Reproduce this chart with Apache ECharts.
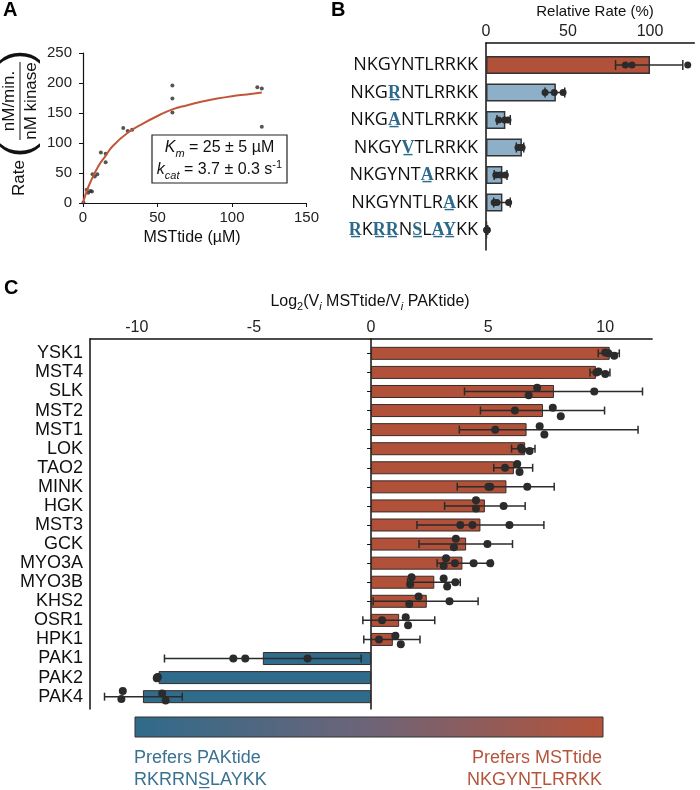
<!DOCTYPE html>
<html>
<head>
<meta charset="utf-8">
<script src="https://cdn.jsdelivr.net/npm/echarts@6/dist/echarts.min.js"></script>
<style>
html, body { margin: 0; padding: 0; background: #fff; }
#chart { width: 700px; height: 790px; }
</style>
</head>
<body>
<div id="chart"></div>
<script>
// panel A: kinetics, substrate uM vs rate
var mmPoints = [[0.3, 1], [2.5, 22], [3.5, 17], [5, 20], [6, 19], [6.4, 48], [7.9, 44], [9.6, 48],
    [12, 84], [15.2, 82], [15.2, 68], [27, 125], [30, 120], [33, 122], [60, 196], [60, 174], [60, 151],
    [117, 193], [120, 191], [120, 127]];
var mmFit = [[0, 0], [2, 16], [5, 35], [10, 60], [15, 78], [20, 95], [30, 117], [40, 132], [50, 145],
    [60, 156], [70, 163], [80, 169], [90, 174], [100, 178], [110, 181], [120, 184]];

// panel B: peptide variants, [x] = changed residue
var peptides = ['NKGYNTLRRKK', 'NKG[R]NTLRRKK', 'NKG[A]NTLRRKK', 'NKGY[V]TLRRKK', 'NKGYNT[A]RRKK', 'NKGYNTLR[A]KK', '[R]K[RR]N[S]L[AY]KK'];
var relRate = [100, 42.6, 11.8, 21.9, 10.0, 10.0, 0.6];
var relLow = [79, 36, 6.7, 18.5, 5.0, 4.7, 0.2];
var relHigh = [120, 48, 14.8, 23.0, 12.8, 14.8, 1.0];
var relDots = [[85, 89, 123], [36, 41.6, 47], [7.7, 11.4, 13.4], [19.5, 21, 22], [6, 8.7, 11.8], [5, 6.7, 13.8], [0.4, 0.6, 0.8]];

// panel C: log2 ratio per kinase
var kinases = ['YSK1', 'MST4', 'SLK', 'MST2', 'MST1', 'LOK', 'TAO2', 'MINK', 'HGK', 'MST3', 'GCK',
    'MYO3A', 'MYO3B', 'KHS2', 'OSR1', 'HPK1', 'PAK1', 'PAK2', 'PAK4'];
var logRatio = [10.19, 9.6, 7.81, 7.34, 6.64, 6.58, 6.1, 5.78, 4.86, 4.67, 4.06, 3.9, 2.7, 2.38, 1.2, 0.93, -4.62, -9.07, -9.74];
var logLow = [9.7, 9.35, 3.99, 4.67, 3.77, 6.0, 5.24, 3.68, 3.14, 1.96, 2.05, 2.82, 1.56, 0.09, -0.35, -0.31, -8.82, -9.15, -11.38];
var logHigh = [10.6, 10.2, 11.59, 9.97, 11.4, 7.0, 6.9, 7.82, 6.58, 7.38, 6.04, 5.15, 3.81, 4.57, 2.72, 2.09, -0.42, -9.05, -8.06];
// replicate values, second number = vertical scatter inside the row
var logDots = [
    [[10.0, -0.05], [10.13, 0], [10.38, 0.12]],
    [[9.62, 0], [9.71, -0.05], [10.0, 0.08]],
    [[7.09, -0.2], [6.73, 0.2], [9.53, 0]],
    [[7.76, -0.15], [8.1, 0.3], [6.14, 0]],
    [[7.2, -0.18], [7.4, 0.26], [5.3, 0]],
    [[6.4, -0.05], [6.45, 0.05], [6.77, 0.12]],
    [[6.24, -0.2], [5.72, 0], [6.34, 0.22]],
    [[5.01, 0], [5.09, 0], [6.67, 0]],
    [[4.48, -0.3], [4.48, 0.14], [5.66, 0]],
    [[3.81, 0], [4.33, 0], [5.91, 0]],
    [[3.62, -0.28], [3.54, 0.16], [4.97, 0]],
    [[3.2, -0.26], [3.1, 0.14], [3.58, 0], [4.38, 0], [5.09, 0]],
    [[1.73, -0.26], [1.67, 0.1], [3.1, -0.2], [3.25, 0.23], [3.6, 0]],
    [[2.03, -0.25], [1.63, 0.14], [3.35, 0]],
    [[0.47, 0], [1.48, -0.17], [1.58, 0.25]],
    [[0.34, 0], [1.04, -0.19], [1.27, 0.25]],
    [[-5.88, 0], [-5.37, 0], [-2.71, 0]],
    [[-9.13, 0], [-9.15, 0.03], [-9.1, -0.03]],
    [[-10.6, -0.3], [-10.66, 0.12], [-8.92, -0.17], [-8.77, 0.2]]
];

var RED = '#b1513a';
var BLUE = '#2f6b8a';
var LIGHTBLUE = '#8db0c8';
var INK = '#2b2b2b';
var FONT = 'Liberation Sans, Arial, sans-serif';

function peptideLabel(v) {
    return v.split(/(\[[A-Z]+\])/).filter(function (p) { return p; }).map(function (p) {
        if (p[0] === '[') {
            return '{u|' + p.slice(1, -1).split('').map(function (c) { return c + '\u0332'; }).join('') + '}';
        }
        return '{n|' + p + '}';
    }).join('');
}

function errorBars(cap, width) {
    return function (params, api) {
        var row = api.value(0);
        var a = api.coord([api.value(1), row]);
        var b = api.coord([api.value(2), row]);
        var st = { stroke: INK, lineWidth: width };
        return {
            type: 'group', children: [
                { type: 'line', shape: { x1: a[0], y1: a[1], x2: b[0], y2: b[1] }, style: st },
                { type: 'line', shape: { x1: a[0], y1: a[1] - cap / 2, x2: a[0], y2: a[1] + cap / 2 }, style: st },
                { type: 'line', shape: { x1: b[0], y1: b[1] - cap / 2, x2: b[0], y2: b[1] + cap / 2 }, style: st }
            ]
        };
    };
}

function dots(r) {
    return function (params, api) {
        var p = api.coord([api.value(0), api.value(1)]);
        var band = api.size([0, 1])[1];
        return { type: 'circle', shape: { cx: p[0], cy: p[1] + api.value(2) * band, r: r }, style: { fill: INK } };
    };
}

var relErr = relRate.map(function (v, i) { return [i, relLow[i], relHigh[i]]; });
var relPts = [];
relDots.forEach(function (arr, i) { arr.forEach(function (v) { relPts.push([v, i, 0]); }); });
var logErr = logRatio.map(function (v, i) { return [i, logLow[i], logHigh[i]]; });
var logPts = [];
logDots.forEach(function (arr, i) { arr.forEach(function (d) { logPts.push([d[0], i, d[1]]); }); });

var hidden = { show: false };
var blackLine = function (w) { return { show: true, onZero: false, lineStyle: { color: '#111', width: w } }; };

var chart = echarts.init(document.getElementById('chart'));
var option = {
    animation: false,
    backgroundColor: '#fff',
    grid: [
        { left: 83, top: 53, width: 223.5, height: 150, outerBoundsMode: 'none' },
        { left: 486, top: 51.25, width: 208.3, height: 192.5, outerBoundsMode: 'none' },
        { left: 486, top: 43, width: 208.3, height: 207, outerBoundsMode: 'none' },
        { left: 90, top: 343.8, width: 562.1, height: 362.4, outerBoundsMode: 'none' },
        { left: 90, top: 339, width: 562.1, height: 370, outerBoundsMode: 'none' }
    ],
    xAxis: [
        {
            gridIndex: 0, type: 'value', min: 0, max: 150, interval: 50,
            axisLine: blackLine(1.2), axisTick: { show: true, length: 4, lineStyle: { color: '#111' } },
            axisLabel: { color: '#222', fontSize: 15, fontFamily: FONT, margin: 7 }, splitLine: hidden
        },
        { gridIndex: 1, type: 'value', min: 0, max: 127, show: false },
        {
            gridIndex: 2, type: 'value', min: 0, max: 127, position: 'top',
            axisLine: blackLine(1.5), axisTick: hidden, splitLine: hidden,
            axisLabel: { customValues: [0, 50, 100], color: '#222', fontSize: 16, fontFamily: FONT, margin: 3 }
        },
        { gridIndex: 3, type: 'value', min: -12, max: 12, show: false },
        {
            gridIndex: 4, type: 'value', min: -12, max: 12, position: 'top',
            axisLine: blackLine(1.5), axisTick: hidden, splitLine: hidden,
            axisLabel: { customValues: [-10, -5, 0, 5, 10], color: '#222', fontSize: 16, fontFamily: FONT, margin: 3 }
        }
    ],
    yAxis: [
        {
            gridIndex: 0, type: 'value', min: 0, max: 250, interval: 50,
            axisLine: blackLine(1.2), axisTick: { show: true, length: 4, lineStyle: { color: '#111' } },
            axisLabel: { color: '#222', fontSize: 15, fontFamily: FONT, margin: 11 }, splitLine: hidden
        },
        {
            gridIndex: 1, type: 'category', data: peptides, inverse: true,
            axisLine: hidden, axisTick: hidden,
            axisLabel: {
                interval: 0, margin: 8, formatter: peptideLabel,
                rich: {
                    n: { fontFamily: 'Open Sans', fontSize: 18, color: '#111' },
                    u: { fontFamily: 'Open Sans', fontSize: 18, color: '#2c6a8c', fontWeight: 'bold' }
                }
            }
        },
        {
            gridIndex: 2, type: 'value', min: 0, max: 1,
            axisLine: blackLine(1.5), axisTick: hidden, axisLabel: hidden, splitLine: hidden
        },
        {
            gridIndex: 3, type: 'category', data: kinases, inverse: true,
            axisLine: hidden,
            axisTick: { show: true, alignWithLabel: true, length: 4, lineStyle: { color: '#111' } },
            axisLabel: { interval: 0, margin: 7, color: '#111', fontSize: 18, fontFamily: FONT }
        },
        {
            gridIndex: 4, type: 'value', min: 0, max: 1,
            axisLine: blackLine(1.5), axisTick: hidden, axisLabel: hidden, splitLine: hidden
        },
        {
            gridIndex: 4, type: 'value', min: 0, max: 1,
            axisLine: { show: true, onZero: true, lineStyle: { color: '#111', width: 1.5 } },
            axisTick: hidden, axisLabel: hidden, splitLine: hidden
        }
    ],
    series: [
        {
            type: 'line', xAxisIndex: 0, yAxisIndex: 0, data: mmFit, smooth: true, showSymbol: false,
            lineStyle: { color: '#c0573b', width: 2 }
        },
        {
            type: 'scatter', xAxisIndex: 0, yAxisIndex: 0, data: mmPoints, symbolSize: 4,
            itemStyle: { color: INK }
        },
        {
            type: 'bar', xAxisIndex: 1, yAxisIndex: 1, data: relRate, barWidth: 18, z: 2,
            itemStyle: {
                color: function (p) { return p.dataIndex === 0 ? RED : LIGHTBLUE; },
                borderColor: '#333', borderWidth: 1.5
            }
        },
        {
            type: 'custom', xAxisIndex: 1, yAxisIndex: 1, data: relErr, z: 5,
            encode: { x: [1, 2], y: 0 }, renderItem: errorBars(10, 1.5)
        },
        {
            type: 'custom', xAxisIndex: 1, yAxisIndex: 1, data: relPts, z: 6,
            encode: { x: 0, y: 1 }, renderItem: dots(3.5)
        },
        {
            type: 'bar', xAxisIndex: 3, yAxisIndex: 3, data: logRatio, barWidth: 13, z: 2,
            itemStyle: {
                color: function (p) { return p.value >= 0 ? RED : BLUE; },
                borderColor: '#3a2b27', borderWidth: 1
            }
        },
        {
            type: 'custom', xAxisIndex: 3, yAxisIndex: 3, data: logErr, z: 5,
            encode: { x: [1, 2], y: 0 }, renderItem: errorBars(8, 1.5)
        },
        {
            type: 'custom', xAxisIndex: 3, yAxisIndex: 3, data: logPts, z: 6,
            encode: { x: 0, y: 1 }, renderItem: dots(4)
        }
    ],
    graphic: {
        elements: [
            { type: 'text', x: 3, y: 10, style: { text: 'A', fontSize: 20, fontWeight: 'bold', fontFamily: FONT, fill: '#000', verticalAlign: 'middle' } },
            { type: 'text', x: 331, y: 10, style: { text: 'B', fontSize: 20, fontWeight: 'bold', fontFamily: FONT, fill: '#000', verticalAlign: 'middle' } },
            { type: 'text', x: 4, y: 288, style: { text: 'C', fontSize: 20, fontWeight: 'bold', fontFamily: FONT, fill: '#000', verticalAlign: 'middle' } },
            // panel A axis titles
            {
                type: 'group', x: 20, y: 101, rotation: Math.PI / 2,
                children: [
                    { type: 'text', x: 0, y: -11, style: { text: 'nM/min.', fontSize: 17, fontFamily: FONT, fill: '#111', align: 'center', verticalAlign: 'middle' } },
                    { type: 'text', x: 0, y: 11, style: { text: 'nM kinase', fontSize: 17, fontFamily: FONT, fill: '#111', align: 'center', verticalAlign: 'middle' } },
                    { type: 'line', shape: { x1: -39, y1: 0, x2: 39, y2: 0 }, style: { stroke: '#111', lineWidth: 1 } },
                    { type: 'text', x: -49, y: -1, style: { text: '(', fontSize: 42, fontFamily: FONT, fill: '#111', align: 'center', verticalAlign: 'middle' } },
                    { type: 'text', x: 44, y: -1, style: { text: ')', fontSize: 42, fontFamily: FONT, fill: '#111', align: 'center', verticalAlign: 'middle' } },
                    { type: 'text', x: -77, y: -1, style: { text: 'Rate', fontSize: 17, fontFamily: FONT, fill: '#111', align: 'center', verticalAlign: 'middle' } }
                ]
            },
            { type: 'text', x: 192, y: 238, style: { text: 'MSTtide (µM)', fontSize: 16, fontFamily: FONT, fill: '#111', align: 'center', verticalAlign: 'middle' } },
            { type: 'rect', shape: { x: 152, y: 135, width: 135, height: 48 }, style: { fill: '#fff', stroke: '#222', lineWidth: 1.2 }, z: 10 },
            {
                type: 'text', x: 219.5, y: 159, z: 11,
                style: {
                    text: '{i|K}{s|m} = 25 ± 5 µM\n{i|k}{s|cat} = 3.7 ± 0.3 s{p|-1}',
                    fontSize: 16, fontFamily: FONT, fill: '#111', align: 'center', verticalAlign: 'middle', lineHeight: 22,
                    rich: {
                        i: { fontStyle: 'italic', fontSize: 16, fontFamily: FONT, lineHeight: 22 },
                        s: { fontStyle: 'italic', fontSize: 11, fontFamily: FONT, lineHeight: 13, verticalAlign: 'bottom' },
                        p: { fontSize: 11, fontFamily: FONT, lineHeight: 13, verticalAlign: 'top' }
                    }
                }
            },
            // panel B title
            { type: 'text', x: 595, y: 12, style: { text: 'Relative Rate (%)', fontSize: 15, fontFamily: FONT, fill: '#111', align: 'center', verticalAlign: 'middle' } },
            // panel C title
            {
                type: 'text', x: 370, y: 302,
                style: {
                    text: 'Log{s|2}(V{si|i} MSTtide/V{si|i} PAKtide)',
                    fontSize: 16, fontFamily: FONT, fill: '#111', align: 'center', verticalAlign: 'middle', lineHeight: 20,
                    rich: {
                        s: { fontSize: 11, fontFamily: FONT, lineHeight: 12, verticalAlign: 'bottom' },
                        si: { fontSize: 11, fontStyle: 'italic', fontFamily: FONT, lineHeight: 12, verticalAlign: 'bottom' }
                    }
                }
            },
            // gradient key
            {
                type: 'rect', shape: { x: 135, y: 717, width: 468, height: 20 },
                style: {
                    fill: new echarts.graphic.LinearGradient(0, 0, 1, 0, [
                        { offset: 0, color: '#2f6b8a' },
                        { offset: 0.5, color: '#6e6478' },
                        { offset: 1, color: '#b4533a' }
                    ]),
                    stroke: '#333', lineWidth: 1
                }
            },
            { type: 'text', x: 134, y: 769, style: { text: 'Prefers PAKtide\nRKRRNS\u0332LAYKK', fontSize: 18, fontFamily: FONT, fill: '#3a7192', align: 'left', verticalAlign: 'middle', lineHeight: 22 } },
            { type: 'text', x: 602, y: 769, style: { text: 'Prefers MSTtide\nNKGYNT\u0332LRRKK', fontSize: 18, fontFamily: FONT, fill: '#b4553b', align: 'right', verticalAlign: 'middle', lineHeight: 22 } }
        ]
    }
};
chart.setOption(option);
</script>
</body>
</html>
